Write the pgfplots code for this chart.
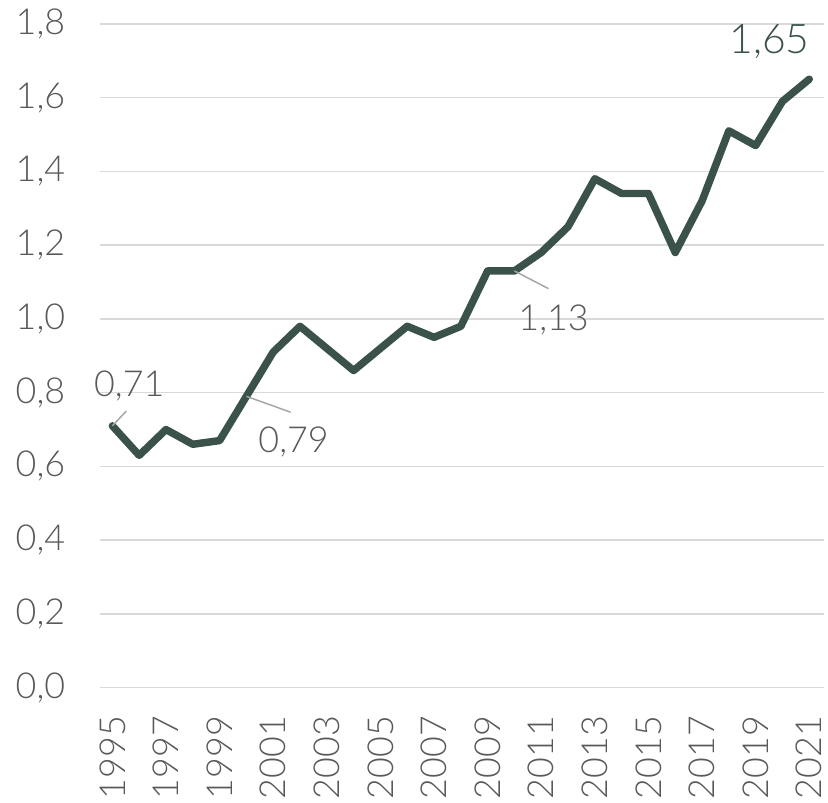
\documentclass[border=0pt]{standalone}
\usepackage{fontspec}
\setmainfont{Lato}[UprightFont={* Light}]
\usepackage{pgfplots}
\pgfplotsset{compat=1.18}
\definecolor{linegreen}{HTML}{3A5249}
\definecolor{txtgrey}{HTML}{595959}
\definecolor{gridgrey}{HTML}{D9D9D9}
\definecolor{leadgrey}{HTML}{A6A6A6}
\begin{document}
\begin{tikzpicture}
\begin{axis}[
    scale only axis,
    width=728pt, height=667pt,
    xmin=1994.52, xmax=2021.55,
    ymin=0, ymax=1.8,
    axis line style={draw=none},
    major tick length=0pt,
    ytick={0,0.2,...,1.8},
    xtick={1995,1997,...,2021},
    ymajorgrids=true,
    grid style={gridgrey, line width=1.5pt},
    tick label style={font=\fontsize{36}{40}\selectfont, text=txtgrey},
    /pgf/number format/assume math mode=true,
    yticklabel style={xshift=-31pt, /pgf/number format/fixed, /pgf/number format/fixed zerofill, /pgf/number format/precision=1, /pgf/number format/use comma},
    xticklabel style={yshift=-25pt, rotate=90, anchor=east, /pgf/number format/1000 sep={}},
    clip=false,
]
\addplot[linegreen, line width=7.5pt, line join=round, line cap=round] coordinates {
(1995,0.71) (1996,0.63) (1997,0.70) (1998,0.66) (1999,0.67)
(2000,0.79) (2001,0.91) (2002,0.98) (2003,0.92) (2004,0.86)
(2005,0.92) (2006,0.98) (2007,0.95) (2008,0.98) (2009,1.13)
(2010,1.13) (2011,1.18) (2012,1.25) (2013,1.38) (2014,1.34)
(2015,1.34) (2016,1.18) (2017,1.32) (2018,1.51) (2019,1.47)
(2020,1.59) (2021,1.65)
};
\draw[leadgrey, line width=1.5pt] (axis cs:1995,0.71) -- (axis cs:1995.52,0.75);
\draw[leadgrey, line width=1.5pt] (axis cs:2000,0.79) -- (axis cs:2001.65,0.747);
\draw[leadgrey, line width=1.5pt] (axis cs:2010,1.13) -- (axis cs:2011.27,1.082);
\node[text=txtgrey, font=\fontsize{36}{40}\selectfont] at (axis cs:1995.63,0.818) {0,71};
\node[text=txtgrey, font=\fontsize{36}{40}\selectfont] at (axis cs:2001.76,0.667) {0,79};
\node[text=txtgrey, font=\fontsize{36}{40}\selectfont] at (axis cs:2011.46,0.996) {1,13};
\node[text=linegreen, font=\fontsize{41}{46}\selectfont] at (axis cs:2019.52,1.751) {1,65};
\path (rel axis cs:0,1) ++(-100pt,24pt) coordinate (tl);
\path (rel axis cs:1,0) ++(4pt,-112pt) coordinate (br);
\path (tl) -- (br);
\end{axis}
\end{tikzpicture}
\end{document}
